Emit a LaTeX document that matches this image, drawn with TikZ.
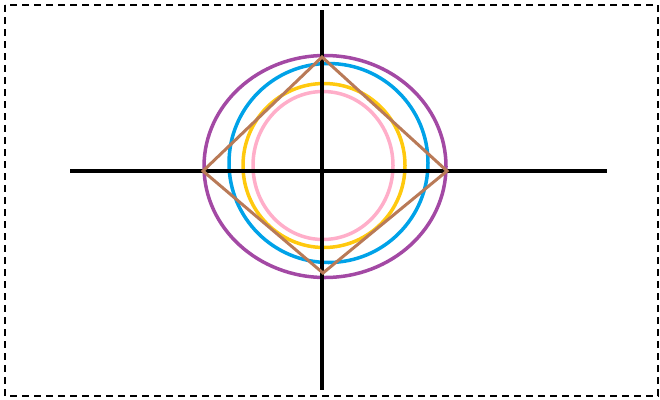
\documentclass[tikz,border=0pt]{standalone}
\usepackage{xcolor}
\usepackage{tikz}
\usetikzlibrary{positioning}

\definecolor{paintpurple}{HTML}{A349A4}
\definecolor{paintblue}{HTML}{00A2E8}
\definecolor{paintyellow}{HTML}{FFC90E}
\definecolor{paintpink}{HTML}{FFAEC9}
\definecolor{paintbrown}{HTML}{B97A57}

\begin{document}
\begin{tikzpicture}[
    x=1pt, y=-1pt,
    frame/.style={draw, line width=1.4pt, dash pattern=on 7pt off 5pt},
    axis/.style={draw, black, line width=4pt},
    ring/.style={draw, line width=3.5pt},
    rhomb/.style={draw, paintbrown, line width=3pt, line join=miter}
]

\useasboundingbox (0,0) rectangle (660,399);
\draw[frame] (5,5) rectangle (658,396);

\draw[ring, paintpurple] (325,166.5) ellipse [x radius=121, y radius=111];
\draw[ring, paintblue] (328.5,163) circle [radius=99.5];
\draw[ring, paintyellow] (324,165.5) ellipse [x radius=81, y radius=82];
\draw[ring, paintpink] (323,165.5) ellipse [x radius=70, y radius=74];

\draw[axis] (70,171) -- (607,171);
\draw[axis] (322,10) -- (322,390);

\draw[rhomb] (322,57) -- (447,171) -- (323,273) -- (203,171) -- cycle;

\end{tikzpicture}
\end{document}
